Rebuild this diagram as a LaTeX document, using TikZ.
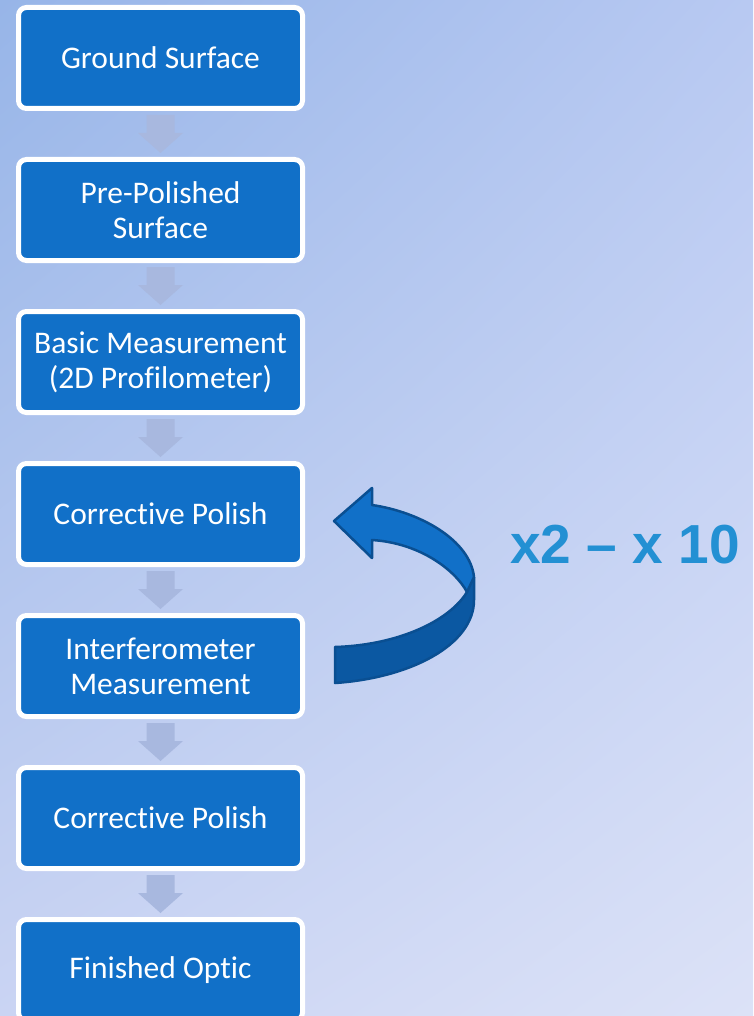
\documentclass[tikz,border=0pt]{standalone}
\usepackage{fontspec}
\setmainfont{Carlito}[Ligatures={TeX,NoCommon}]
\newfontfamily\repfont{Liberation Sans}
\usetikzlibrary{calc,shadings}
\definecolor{boxblue}{HTML}{1170C8}
\definecolor{flowarr}{HTML}{A8B8DF}
\definecolor{bgtl}{HTML}{97B5E8}
\definecolor{bgtr}{HTML}{B8C9F2}
\definecolor{bgbl}{HTML}{CAD4F3}
\definecolor{bgbr}{HTML}{DCE2F7}
\definecolor{ribbonlight}{HTML}{1170C8}
\definecolor{ribbondark}{HTML}{0B58A2}
\definecolor{ribbonline}{HTML}{0A4F92}
\definecolor{reptext}{HTML}{2390D3}
\begin{document}
\begin{tikzpicture}[x=1pt,y=-1pt,
  stepbox/.style={draw=white, line width=5pt, fill=boxblue, rounded corners=8pt,
    minimum width=284pt, minimum height=101pt, text=white, align=center,
    font=\fontsize{31.5}{35}\selectfont, inner sep=0pt},
  flowarrow/.style={fill=flowarr},
  ribbon/.style={draw=ribbonline, line width=2.5pt, line join=round},
  reptxt/.style={font=\repfont\bfseries\fontsize{55}{62}\selectfont, inner sep=0pt}
]
\useasboundingbox (0,0) rectangle (753,1016);
\shade[upper left=bgtl, upper right=bgtr, lower left=bgbl, lower right=bgbr] (0,0) rectangle (753,1016);

\node[stepbox] (b1) at (160.5,58) {Ground Surface};
\node[stepbox] (b2) at (160.5,210) {Pre-Polished\\Surface};
\node[stepbox] (b3) at (160.5,362) {Basic Measurement\\(2D Profilometer)};
\node[stepbox] (b4) at (160.5,514) {Corrective Polish};
\node[stepbox] (b5) at (160.5,666) {Interferometer\\Measurement};
\node[stepbox] (b6) at (160.5,818) {Corrective Polish};
\node[stepbox] (b7) at (160.5,970) {Finished Optic};

\foreach \a/\b in {b1/b2,b2/b3,b3/b4,b4/b5,b5/b6,b6/b7}{
  \fill[flowarrow] ($(\a.south)+(-14,4)$) -- ($(\a.south)+(14,4)$) -- ($(\a.south)+(14,22)$)
    -- ($(\a.south)+(22.5,22)$) -- ($(\b.north)+(0,-4)$) -- ($(\a.south)+(-22.5,22)$)
    -- ($(\a.south)+(-14,22)$) -- cycle;
}

% curved return arrow from b5 to b4
\coordinate (tip) at ($(b4.east)+(29,7)$);
\coordinate (tail) at ($(b5.east)+(28,-1)$);
\fill[ribbondark] (467,592) .. controls (450,620) and (400,645) .. (335,647) -- (335,683)
  .. controls (410,678) and (474,645) .. (474,600) -- (474,577) -- cycle;
\draw[ribbon] (467,592) .. controls (450,620) and (400,645) .. (335,647) -- (335,683)
  .. controls (410,678) and (474,645) .. (474,600) -- (474,577);
\fill[ribbonlight] (tip) -- (372,488) -- (372,505) .. controls (420,512) and (470,540) .. (474,577)
  -- (467,592) .. controls (455,570) and (420,543) .. (372,540) -- (372,558) -- cycle;
\draw[ribbon] (tip) -- (372,488) -- (372,505) .. controls (420,512) and (470,540) .. (474,577)
  -- (467,592) .. controls (455,570) and (420,543) .. (372,540) -- (372,558) -- cycle;

% repetition label
\node[reptxt, text=reptext] (rep) at (625,545) {x2 \textendash{} x 10};
\end{tikzpicture}
\end{document}
